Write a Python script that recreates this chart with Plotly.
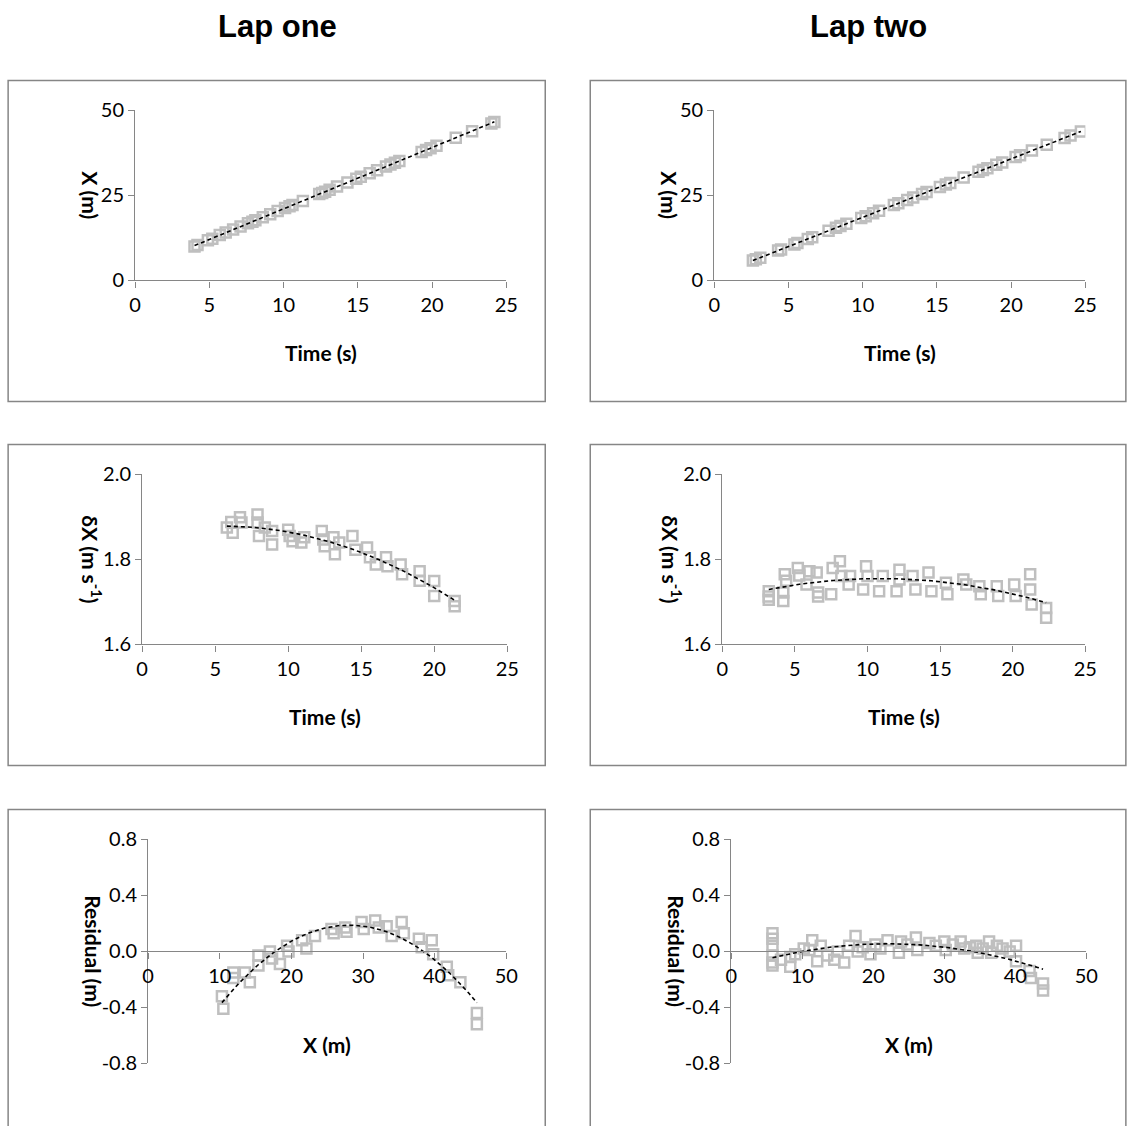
import numpy as np
import plotly.graph_objects as go

# figure size in pixels and the page geometry it is shown in
W, H = 1140, 1140
MARGIN = 8                      # default body margin of the page
SX, OX = 0.984, -2.0            # screen x = OX + SX * page x
SY, OY = 0.979, 4.7             # screen y = OY + SY * page y

# ---- Lap one: position vs time ----
lap1_time = [4.0, 4.2, 4.9, 5.2, 5.7, 6.1, 6.6, 7.1, 7.6, 7.9, 8.1, 8.6, 9.1, 9.6, 10.1, 10.4,
             10.6, 11.3, 12.4, 12.6, 12.8, 13.1, 13.6, 14.3, 14.9, 15.2, 15.8, 16.3, 16.9,
             17.2, 17.5, 17.8, 19.3, 19.6, 19.9, 20.3, 21.6, 22.7, 24.0, 24.2]
lap1_pos = [10.0, 10.4, 11.8, 12.3, 13.4, 14.1, 15.0, 15.9, 16.8, 17.3, 17.7, 18.6, 19.5, 20.4,
            21.3, 21.8, 22.2, 23.4, 25.4, 25.7, 26.1, 26.7, 27.6, 28.8, 29.9, 30.5, 31.5, 32.4,
            33.5, 34.1, 34.6, 35.1, 37.8, 38.4, 38.9, 39.6, 42.0, 43.9, 46.2, 46.6]

# ---- Lap one: speed vs time ----
lap1_vt = [5.8, 6.2, 6.1, 6.7, 6.8, 7.9, 7.9, 8.0, 8.4, 8.9, 8.9, 10.0, 10.1, 10.3, 10.9, 11.1,
           12.3, 12.4, 12.5, 13.1, 13.2, 13.5, 14.4, 14.6, 15.4, 15.6, 16.0, 16.7, 16.8, 17.7,
           17.8, 19.0, 19.0, 20.0, 20.0, 21.4, 21.4]
lap1_speed = [1.875, 1.863, 1.888, 1.899, 1.887, 1.906, 1.887, 1.855, 1.875, 1.867, 1.835,
              1.870, 1.855, 1.843, 1.840, 1.852, 1.867, 1.847, 1.831, 1.852, 1.812, 1.840,
              1.855, 1.823, 1.828, 1.805, 1.788, 1.805, 1.784, 1.788, 1.765, 1.772, 1.750,
              1.749, 1.714, 1.702, 1.690]

# ---- Lap one: residual vs position ----
lap1_rx = [10.3, 10.5, 11.9, 11.9, 13.5, 14.2, 15.4, 15.4, 17.0, 17.3, 18.4, 19.4, 19.6, 21.5,
           22.1, 23.3, 25.6, 25.9, 27.5, 27.7, 29.8, 30.1, 31.7, 32.2, 33.3, 34.0, 35.4, 35.7,
           37.8, 38.2, 39.6, 39.8, 41.7, 41.9, 43.6, 45.9, 45.9]
lap1_res = [-0.32, -0.41, -0.15, -0.19, -0.15, -0.22, -0.03, -0.10, 0.00, -0.05, -0.09, 0.04,
            0.00, 0.08, 0.02, 0.11, 0.16, 0.13, 0.17, 0.14, 0.21, 0.16, 0.22, 0.17, 0.18, 0.11,
            0.21, 0.13, 0.09, 0.03, 0.08, -0.02, -0.11, -0.17, -0.22, -0.44, -0.52]

# ---- Lap two: position vs time ----
lap2_time = [2.6, 2.8, 3.1, 4.3, 4.5, 5.4, 5.6, 6.3, 6.6, 7.7, 8.2, 8.5, 8.9, 9.9, 10.2, 10.7,
             11.1, 12.1, 12.4, 13.0, 13.4, 14.0, 14.3, 15.2, 15.6, 15.9, 16.8, 17.8, 18.1, 18.4,
             19.0, 19.4, 20.3, 20.6, 21.4, 22.4, 23.6, 24.0, 24.7]
lap2_pos = [5.9, 6.2, 6.7, 8.8, 9.1, 10.6, 11.0, 12.2, 12.7, 14.6, 15.5, 16.0, 16.7, 18.4, 18.9,
            19.8, 20.5, 22.2, 22.7, 23.7, 24.4, 25.4, 26.0, 27.5, 28.2, 28.7, 30.3, 32.0, 32.5,
            33.0, 34.0, 34.7, 36.3, 36.8, 38.2, 39.9, 41.9, 42.6, 43.8]

# ---- Lap two: speed vs time ----
lap2_vt = [3.2, 3.2, 3.2, 4.2, 4.2, 4.3, 4.4, 5.2, 5.3, 5.8, 6.0, 6.5, 6.6, 6.6, 7.5, 7.6, 8.1,
           8.2, 8.7, 8.8, 9.7, 9.9, 10.0, 10.8, 11.05, 12.0, 12.2, 12.2, 13.1, 13.3, 14.2, 14.4,
           15.4, 15.5, 16.6, 16.8, 17.7, 17.8, 18.9, 19.0, 20.1, 20.2, 21.2, 21.2, 21.3, 22.3,
           22.3]
lap2_speed = [1.725, 1.705, 1.713, 1.722, 1.702, 1.765, 1.750, 1.780, 1.762, 1.741, 1.772,
              1.769, 1.722, 1.713, 1.718, 1.780, 1.796, 1.761, 1.741, 1.761, 1.729, 1.784,
              1.761, 1.725, 1.761, 1.725, 1.776, 1.753, 1.761, 1.729, 1.769, 1.725, 1.745,
              1.718, 1.753, 1.741, 1.737, 1.718, 1.737, 1.714, 1.741, 1.714, 1.765, 1.729,
              1.694, 1.686, 1.663]

# ---- Lap two: residual vs position ----
lap2_rx = [5.8, 5.8, 5.8, 5.8, 5.8, 5.8, 7.0, 8.3, 8.3, 9.0, 10.2, 11.0, 11.4, 12.1, 12.6,
           13.5, 14.5, 15.0, 15.9, 16.6, 17.5, 17.8, 18.5, 19.6, 20.3, 21.0, 22.0, 23.6, 23.9,
           24.8, 26.0, 26.2, 27.9, 28.8, 30.0, 30.2, 31.2, 32.3, 32.8, 33.6, 34.5, 34.7, 35.4,
           36.3, 36.6, 37.4, 38.2, 39.2, 40.1, 40.1, 42.0, 42.2, 43.9, 43.9]
lap2_res = [0.13, 0.09, 0.04, -0.03, -0.08, -0.10, -0.06, -0.11, -0.04, -0.02, 0.02, 0.01,
            0.08, -0.07, 0.04, -0.03, -0.06, 0.00, -0.08, 0.04, 0.11, 0.00, 0.03, -0.02, 0.05,
            0.02, 0.08, -0.01, 0.07, 0.05, 0.10, 0.01, 0.06, 0.04, 0.07, 0.01, 0.05, 0.07, 0.02,
            0.03, 0.04, -0.01, 0.02, 0.07, -0.01, 0.04, 0.02, 0.00, 0.04, -0.07, -0.14, -0.19,
            -0.23, -0.28]

# ---- axis settings ----
x_ranges = [[0, 25], [0, 25], [0, 25], [0, 25], [0, 50], [0, 50]]
y_ranges = [[0, 50], [0, 50], [1.6, 2.0], [1.6, 2.0], [-0.8, 0.8], [-0.8, 0.8]]
pos_ticks = [0, 25, 50]
pos_labels = ["0", "25", "50"]
speed_ticks = [1.6, 1.8, 2.0]
speed_labels = ["1.6", "1.8", "2.0"]
res_ticks = [-0.8, -0.4, 0.0, 0.4, 0.8]
res_labels = ["-0.8", "-0.4", "0.0", "0.4", "0.8"]
y_ticks = [pos_ticks, pos_ticks, speed_ticks, speed_ticks, res_ticks, res_ticks]
y_labels = [pos_labels, pos_labels, speed_labels, speed_labels, res_labels, res_labels]
x_dtick = [5, 5, 5, 5, 10, 10]
x_titles = ["Time (s)", "Time (s)", "Time (s)", "Time (s)", "X (m)", "X (m)"]
y_titles = ["X (m)", "X (m)", "δX (m s<sup>-1</sup>)", "δX (m s<sup>-1</sup>)",
            "Residual (m)", "Residual (m)"]
col_titles = ["Lap one", "Lap two"]

# plot areas in screen pixels: (left, right, top, bottom)
areas = [(135, 506, 110, 280), (714, 1085, 110, 280),
         (142, 507, 474, 644), (722, 1085, 474, 644),
         (148, 506, 839, 1063), (731, 1086, 839, 1063)]
# distance of each y-axis title from its axis line
ytitle_gap = [45, 45, 51, 51, 55, 55]
# frame boxes in screen pixels
boxes = [(8, 545, 80, 401), (590, 1125.5, 80, 401),
         (8, 545, 444, 765), (590, 1125.5, 444, 765),
         (8, 545, 809, 1140), (590, 1125.5, 809, 1140)]


def px(x):
    """screen x -> paper x"""
    return ((x - OX) / SX - MARGIN) / W


def py(y):
    """screen y -> paper y"""
    return 1 - ((y - OY) / SY - MARGIN) / H


series = [(lap1_time, lap1_pos, 1), (lap2_time, lap2_pos, 1),
          (lap1_vt, lap1_speed, 2), (lap2_vt, lap2_speed, 2),
          (lap1_rx, lap1_res, 2), (lap2_rx, lap2_res, 2)]

GRAY = "#868686"
MARK = "#bfbfbf"
TICKFONT = dict(family="Lato, Carlito, sans-serif", size=20, color="black")
TITLEFONT = dict(family="Lato, Carlito, sans-serif", size=21, color="black")

fig = go.Figure()
layout = dict(width=W, height=H, margin=dict(l=0, r=0, t=0, b=0),
              paper_bgcolor="white", plot_bgcolor="white", showlegend=False)
annotations = []
shapes = []

for i, (xs, ys, deg) in enumerate(series):
    n = i + 1
    xa = "x" if n == 1 else f"x{n}"
    ya = "y" if n == 1 else f"y{n}"
    fig.add_trace(go.Scatter(
        x=xs, y=ys, mode="markers", xaxis=xa, yaxis=ya,
        marker=dict(symbol="square-open", size=10, color=MARK, line=dict(width=2.5, color=MARK)),
        hoverinfo="skip"))
    # least-squares trend line through the points
    coef = np.polyfit(xs, ys, deg)
    xf = np.linspace(min(xs), max(xs), 100)
    fig.add_trace(go.Scatter(
        x=xf, y=np.polyval(coef, xf), mode="lines", xaxis=xa, yaxis=ya,
        line=dict(color="black", width=1.6, dash="4px,3px"), hoverinfo="skip"))

    l, r, t, b = areas[i]
    xkey = "xaxis" if n == 1 else f"xaxis{n}"
    ykey = "yaxis" if n == 1 else f"yaxis{n}"
    xdict = dict(domain=[px(l), px(r)], range=x_ranges[i], dtick=x_dtick[i], tick0=0,
                 showgrid=False, zeroline=False, showline=True, linecolor=GRAY, linewidth=1.3,
                 ticks="outside", ticklen=6, tickcolor=GRAY, tickwidth=1.3,
                 tickfont=TICKFONT, fixedrange=True)
    if i >= 4:
        # x axis crosses the y axis at zero
        xdict.update(anchor="free", position=(py(t) + py(b)) / 2)
    else:
        xdict.update(anchor=ya)
    layout[xkey] = xdict
    layout[ykey] = dict(domain=[py(b), py(t)], range=y_ranges[i], tickvals=y_ticks[i],
                        ticktext=y_labels[i], anchor=xa, showgrid=False, zeroline=False,
                        showline=True, linecolor=GRAY, linewidth=1.3, ticks="outside",
                        ticklen=6, tickcolor=GRAY, tickwidth=1.3, tickfont=TICKFONT,
                        fixedrange=True)

    # axis titles
    xt_y = b + 72 if i < 4 else 1044
    annotations.append(dict(text=f"<b>{x_titles[i]}</b>", x=px((l + r) / 2), y=py(xt_y),
                            xref="paper", yref="paper", showarrow=False, font=TITLEFONT,
                            xanchor="center", yanchor="middle"))
    annotations.append(dict(text=f"<b>{y_titles[i]}</b>", x=px(l - ytitle_gap[i]),
                            y=py((t + b) / 2), xref="paper", yref="paper", showarrow=False,
                            font=TITLEFONT, textangle=90, xanchor="center", yanchor="middle"))

    bl, br, bt, bb = boxes[i]
    shapes.append(dict(type="rect", xref="paper", yref="paper", x0=px(bl), x1=px(br),
                       y0=py(bb), y1=py(bt), line=dict(color=GRAY, width=1.5),
                       layer="below"))

for j, title in enumerate(col_titles):
    cx = 277 if j == 0 else 868
    annotations.append(dict(text=f"<b>{title}</b>", x=px(cx), y=py(26), xref="paper",
                            yref="paper", showarrow=False,
                            font=dict(family="Liberation Sans, Arial, sans-serif", size=31,
                                      color="black"),
                            xanchor="center", yanchor="middle"))

layout["annotations"] = annotations
layout["shapes"] = shapes
fig.update_layout(**layout)
fig.write_html("out.html")
